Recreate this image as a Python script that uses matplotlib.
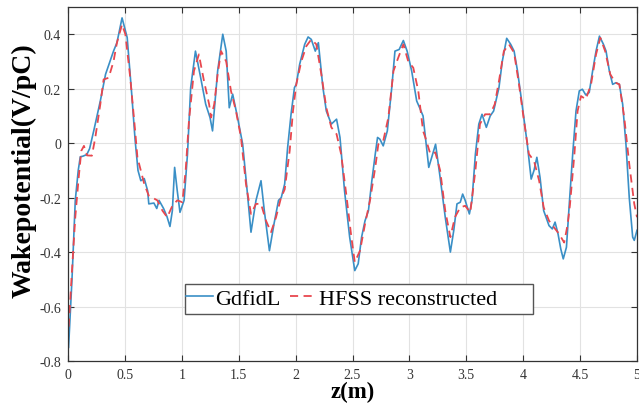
import numpy as np
import matplotlib
matplotlib.use('Agg')
import matplotlib.pyplot as plt
from matplotlib.patches import Rectangle

plt.rcParams['font.family'] = ['Liberation Serif', 'DejaVu Serif']
plt.rcParams['axes.unicode_minus'] = False

# GdfidL wake potential (V/pC) vs z (m)
z_gdfidl = [0.005, 0.035, 0.064, 0.09, 0.108, 0.13, 0.165, 0.19, 0.226, 0.284,
            0.33, 0.40, 0.43, 0.475, 0.52, 0.56, 0.59, 0.615, 0.64, 0.67,
            0.70, 0.71, 0.755, 0.78, 0.80, 0.84, 0.87, 0.896, 0.917, 0.937,
            0.96, 0.984, 1.02, 1.05, 1.078, 1.12, 1.166, 1.21, 1.248, 1.27,
            1.315, 1.36, 1.39, 1.417, 1.447, 1.49, 1.535, 1.58, 1.608, 1.652,
            1.696, 1.725, 1.77, 1.81, 1.85, 1.874, 1.904, 1.93, 1.96, 1.99,
            2.006, 2.036, 2.08, 2.11, 2.138, 2.173, 2.20, 2.24, 2.27, 2.314,
            2.36, 2.39, 2.43, 2.475, 2.52, 2.55, 2.58, 2.61, 2.64, 2.67,
            2.70, 2.72, 2.74, 2.77, 2.806, 2.845, 2.873, 2.91, 2.947, 2.98,
            3.02, 3.064, 3.09, 3.12, 3.17, 3.23, 3.27, 3.315, 3.36, 3.39,
            3.418, 3.447, 3.468, 3.49, 3.527, 3.55, 3.58, 3.61, 3.638, 3.676,
            3.71, 3.74, 3.787, 3.816, 3.855, 3.89, 3.92, 3.95, 3.99, 4.036,
            4.07, 4.095, 4.12, 4.148, 4.18, 4.227, 4.256, 4.28, 4.306, 4.33,
            4.352, 4.38, 4.405, 4.435, 4.464, 4.493, 4.52, 4.55, 4.58, 4.61,
            4.64, 4.67, 4.705, 4.728, 4.757, 4.786, 4.815, 4.845, 4.874, 4.903,
            4.932, 4.962, 4.976, 5.0]
w_gdfidl = [-0.75, -0.50, -0.21, -0.10, -0.05, -0.048, -0.042, -0.02, 0.045, 0.155,
            0.253, 0.338, 0.369, 0.46, 0.388, 0.18, 0.01, -0.10, -0.138, -0.13,
            -0.175, -0.223, -0.22, -0.24, -0.21, -0.24, -0.27, -0.306, -0.248, -0.089,
            -0.175, -0.254, -0.21, -0.04, 0.204, 0.338, 0.24, 0.143, 0.094, 0.045,
            0.265, 0.40, 0.338, 0.13, 0.18, 0.094, -0.004, -0.20, -0.327, -0.21,
            -0.138, -0.248, -0.395, -0.297, -0.21, -0.20, -0.15, -0.016, 0.106, 0.204,
            0.216, 0.29, 0.363, 0.39, 0.381, 0.338, 0.369, 0.204, 0.118, 0.07,
            0.088, 0.021, -0.175, -0.345, -0.468, -0.443, -0.345, -0.285, -0.248, -0.138,
            -0.04, 0.021, 0.015, -0.01, 0.045, 0.204, 0.338, 0.344, 0.377, 0.338,
            0.265, 0.155, 0.13, 0.10, -0.089, -0.004, -0.126, -0.272, -0.40, -0.32,
            -0.223, -0.217, -0.187, -0.21, -0.26, -0.21, -0.04, 0.07, 0.106, 0.058,
            0.10, 0.118, 0.204, 0.30, 0.385, 0.363, 0.338, 0.265, 0.143, -0.004,
            -0.132, -0.10, -0.052, -0.126, -0.248, -0.303, -0.315, -0.29, -0.333, -0.388,
            -0.425, -0.382, -0.223, -0.04, 0.118, 0.192, 0.198, 0.177, 0.186, 0.265,
            0.338, 0.393, 0.363, 0.338, 0.265, 0.216, 0.222, 0.216, 0.143, -0.004,
            -0.20, -0.345, -0.357, -0.32]

# HFSS reconstructed wake potential
z_hfss = [0.006, 0.035, 0.064, 0.094, 0.117, 0.14, 0.167, 0.21, 0.24, 0.284,
          0.313, 0.357, 0.40, 0.43, 0.475, 0.504, 0.547, 0.59, 0.61, 0.67,
          0.71, 0.785, 0.83, 0.872, 0.917, 0.96, 1.005, 1.034, 1.063, 1.107,
          1.15, 1.195, 1.24, 1.257, 1.285, 1.315, 1.345, 1.39, 1.432, 1.476,
          1.52, 1.564, 1.608, 1.652, 1.696, 1.74, 1.784, 1.828, 1.872, 1.904,
          1.948, 1.977, 2.006, 2.05, 2.094, 2.138, 2.182, 2.226, 2.27, 2.314,
          2.36, 2.40, 2.445, 2.49, 2.52, 2.566, 2.61, 2.654, 2.70, 2.727,
          2.77, 2.815, 2.86, 2.902, 2.947, 2.99, 3.034, 3.078, 3.12, 3.14,
          3.184, 3.228, 3.27, 3.315, 3.36, 3.40, 3.447, 3.49, 3.535, 3.58,
          3.62, 3.665, 3.71, 3.75, 3.787, 3.83, 3.875, 3.92, 3.963, 4.007,
          4.05, 4.095, 4.14, 4.18, 4.227, 4.27, 4.315, 4.36, 4.39, 4.41,
          4.45, 4.478, 4.508, 4.55, 4.596, 4.64, 4.678, 4.72, 4.765, 4.81,
          4.845, 4.888, 4.932, 4.976, 5.0]
w_hfss = [-0.674, -0.468, -0.272, -0.126, -0.028, -0.01, -0.045, -0.046, 0.021, 0.143,
          0.234, 0.24, 0.30, 0.369, 0.436, 0.40, 0.24, 0.045, -0.052, -0.15,
          -0.193, -0.21, -0.248, -0.272, -0.23, -0.21, -0.217, -0.10, 0.082, 0.265,
          0.326, 0.228, 0.143, 0.094, 0.143, 0.253, 0.338, 0.30, 0.192, 0.118,
          0.021, -0.15, -0.26, -0.223, -0.223, -0.285, -0.327, -0.272, -0.20, -0.17,
          -0.028, 0.118, 0.216, 0.30, 0.356, 0.381, 0.363, 0.253, 0.13, 0.058,
          0.033, -0.04, -0.187, -0.345, -0.437, -0.395, -0.297, -0.21, -0.089, -0.004,
          0.008, 0.094, 0.265, 0.314, 0.363, 0.30, 0.277, 0.192, 0.045, 0.021,
          -0.04, -0.034, -0.10, -0.248, -0.345, -0.272, -0.236, -0.23, -0.254, -0.10,
          0.07, 0.106, 0.106, 0.143, 0.228, 0.338, 0.363, 0.332, 0.216, 0.082,
          -0.04, -0.065, -0.138, -0.236, -0.285, -0.309, -0.333, -0.365, -0.30, -0.23,
          -0.04, 0.118, 0.173, 0.161, 0.216, 0.326, 0.387, 0.338, 0.253, 0.222,
          0.216, 0.094, -0.077, -0.223, -0.272]

x_ticks = [0, 0.5, 1, 1.5, 2, 2.5, 3, 3.5, 4, 4.5, 5]
x_labels = ['0', '0.5', '1', '1.5', '2', '2.5', '3', '3.5', '4', '4.5', '5']
y_ticks = [-0.8, -0.6, -0.4, -0.2, 0, 0.2, 0.4]
y_labels = ['-0.8', '-0.6', '-0.4', '-0.2', '0', '0.2', '0.4']

fig = plt.figure(figsize=(6.39, 4.06), dpi=100)
ax = fig.add_axes([68 / 639, 44 / 406, 569 / 639, 354 / 406])

ax.plot(z_gdfidl, w_gdfidl, color='#3a8fc6', lw=1.2, label='GdfidL')
ax.plot(z_hfss, w_hfss, color='#e8474e', lw=1.3, ls=(0, (4.5, 3)),
        label='HFSS reconstructed')

ax.set_xlim(0, 5)
ax.set_ylim(-0.8, 0.5)
ax.set_xticks(x_ticks)
ax.set_xticklabels(x_labels)
ax.set_yticks(y_ticks)
ax.set_yticklabels(y_labels)
ax.grid(True, color='#e2e2e2', lw=0.8)
ax.set_axisbelow(True)
ax.tick_params(direction='in', top=True, right=True, length=4,
               labelsize=10, colors='#333333', width=0.8, pad=5)
for sp in ax.spines.values():
    sp.set_color('#333333')
    sp.set_linewidth(0.9)

ax.set_xlabel('z(m)', fontsize=16.5, fontweight='bold', labelpad=0)
ax.set_ylabel('Wakepotential(V/pC)', fontsize=20, fontweight='bold')
ax.yaxis.set_label_coords(-0.056, 0.54)

# legend box is wider than its content, like the MATLAB original
frame = Rectangle((0.2056, 0.133), 0.6116, 0.0847, transform=ax.transAxes,
                  facecolor='white', edgecolor='#555555', lw=1.0, zorder=4)
ax.add_patch(frame)
leg = ax.legend(loc='center left', bbox_to_anchor=(0.2075, 0.176), ncol=2,
                fontsize=16, frameon=False, handlelength=1.2,
                handletextpad=0.1, columnspacing=0.45, borderpad=0,
                borderaxespad=0)
leg.set_zorder(5)

plt.savefig('out.png', dpi=100)
